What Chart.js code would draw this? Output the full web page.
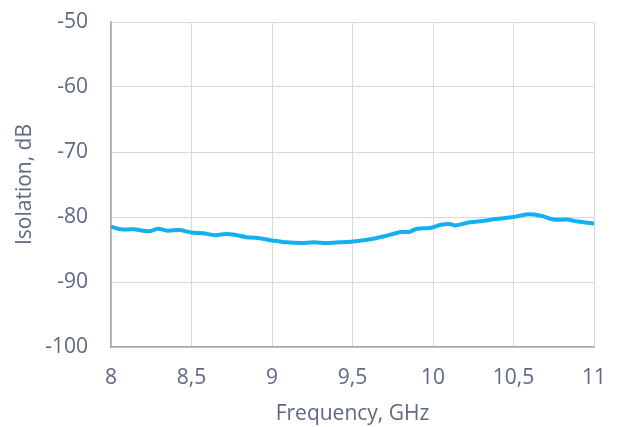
<!DOCTYPE html>
<html lang="en">
<head>
    <meta charset="UTF-8">
    <title>Isolation vs Frequency</title>
    <style>
        html, body { margin: 0; padding: 0; background: #ffffff; }
        #wrap { width: 621px; height: 427px; }
    </style>
</head>
<body>
    <div id="wrap">
        <canvas id="isoChart" width="621" height="427"></canvas>
    </div>
    <script src="https://cdn.jsdelivr.net/npm/chart.js"></script>
    <script>
        // Values
        const freqGHz = [8.00, 8.06, 8.14, 8.24, 8.29, 8.35, 8.43, 8.50, 8.57, 8.65, 8.71, 8.76, 8.84, 8.90,
                         9.00, 9.09, 9.18, 9.26, 9.34, 9.42, 9.49, 9.59, 9.69, 9.80, 9.85, 9.90, 9.98,
                         10.05, 10.11, 10.14, 10.23, 10.31, 10.39, 10.50, 10.58, 10.67, 10.75, 10.83, 10.90, 11.00];
        const isolationDb = [-81.5, -81.9, -81.9, -82.2, -81.8, -82.1, -82.0, -82.4, -82.5, -82.8, -82.6, -82.7, -83.1, -83.2,
                             -83.6, -83.9, -84.0, -83.9, -84.0, -83.9, -83.8, -83.5, -83.0, -82.3, -82.3, -81.8, -81.7,
                             -81.2, -81.1, -81.3, -80.8, -80.6, -80.3, -80.0, -79.6, -79.8, -80.4, -80.4, -80.7, -81.0];
        const xTicks = [8, 8.5, 9, 9.5, 10, 10.5, 11];
        const yTicks = [-100, -90, -80, -70, -60, -50];

        const textColor = '#5d6882';
        const gridColor = '#d9d9d9';
        const axisColor = '#a6a6a6';
        const font = { family: 'Open Sans', size: 21 };

        const points = freqGHz.map((f, i) => ({ x: f, y: isolationDb[i] }));

        const ctx = document.getElementById('isoChart').getContext('2d');
        new Chart(ctx, {
            type: 'line',
            data: {
                datasets: [{
                    data: points,
                    borderColor: '#12b0ef',
                    borderWidth: 4,
                    pointRadius: 0,
                    tension: 0.3,
                    fill: false
                }]
            },
            options: {
                responsive: false,
                animation: false,
                layout: { padding: { top: 22, right: 27, bottom: 0, left: 0 } },
                plugins: { legend: { display: false }, tooltip: { enabled: false } },
                scales: {
                    x: {
                        type: 'linear',
                        min: 8,
                        max: 11,
                        afterBuildTicks: axis => { axis.ticks = xTicks.map(v => ({ value: v })); },
                        afterFit: axis => {
                            axis.height = 80;
                            axis.paddingLeft = 0;
                            axis.paddingRight = 0;
                        },
                        grid: { color: gridColor, drawTicks: false },
                        border: { color: axisColor, width: 1.5 },
                        ticks: {
                            color: textColor,
                            font: font,
                            padding: 18,
                            maxRotation: 0,
                            callback: v => String(v).replace('.', ',')
                        },
                        title: {
                            display: true,
                            text: 'Frequency, GHz',
                            color: textColor,
                            font: font,
                            padding: { top: 6, bottom: 0 }
                        }
                    },
                    y: {
                        min: -100,
                        max: -50,
                        afterBuildTicks: axis => { axis.ticks = yTicks.map(v => ({ value: v })); },
                        afterFit: axis => {
                            axis.width = 111;
                            axis.paddingTop = 0;
                            axis.paddingBottom = 0;
                        },
                        grid: { color: gridColor, drawTicks: false },
                        border: { color: axisColor, width: 1.5 },
                        ticks: {
                            color: textColor,
                            font: font,
                            padding: 23
                        },
                        title: {
                            display: true,
                            text: 'Isolation, dB',
                            color: textColor,
                            font: font,
                            padding: { top: 12, bottom: 4 }
                        }
                    }
                }
            }
        });
    </script>
</body>
</html>
